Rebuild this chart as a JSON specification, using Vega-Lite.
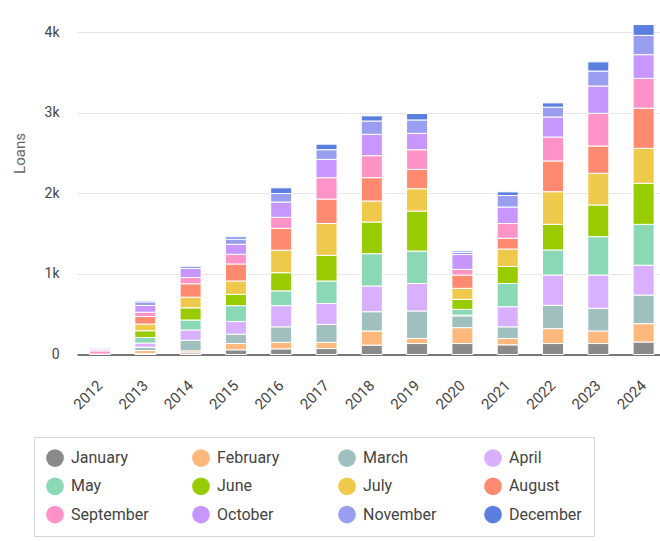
{
  "$schema": "https://vega.github.io/schema/vega-lite/v6.json",
  "autosize": {"type": "none"},
  "padding": {"left": 77, "top": 16, "right": 0, "bottom": 186.5},
  "width": 583,
  "height": 338.5,
  "background": "white",
  "config": {"font": "Roboto", "view": {"stroke": null}},
  "data": {"values": [
    {"year":"2012","month":"August","n":8,"loans":5},
    {"year":"2012","month":"September","n":9,"loans":40},
    {"year":"2012","month":"October","n":10,"loans":20},
    {"year":"2012","month":"November","n":11,"loans":15},
    {"year":"2012","month":"December","n":12,"loans":7},
    {"year":"2013","month":"January","n":1,"loans":12},
    {"year":"2013","month":"February","n":2,"loans":37},
    {"year":"2013","month":"March","n":3,"loans":42},
    {"year":"2013","month":"April","n":4,"loans":51},
    {"year":"2013","month":"May","n":5,"loans":69},
    {"year":"2013","month":"June","n":6,"loans":84},
    {"year":"2013","month":"July","n":7,"loans":83},
    {"year":"2013","month":"August","n":8,"loans":93},
    {"year":"2013","month":"September","n":9,"loans":54},
    {"year":"2013","month":"October","n":10,"loans":83},
    {"year":"2013","month":"November","n":11,"loans":45},
    {"year":"2013","month":"December","n":12,"loans":12},
    {"year":"2014","month":"January","n":1,"loans":20},
    {"year":"2014","month":"February","n":2,"loans":25},
    {"year":"2014","month":"March","n":3,"loans":132},
    {"year":"2014","month":"April","n":4,"loans":127},
    {"year":"2014","month":"May","n":5,"loans":124},
    {"year":"2014","month":"June","n":6,"loans":151},
    {"year":"2014","month":"July","n":7,"loans":132},
    {"year":"2014","month":"August","n":8,"loans":167},
    {"year":"2014","month":"September","n":9,"loans":77},
    {"year":"2014","month":"October","n":10,"loans":112},
    {"year":"2014","month":"November","n":11,"loans":30},
    {"year":"2014","month":"December","n":12,"loans":8},
    {"year":"2015","month":"January","n":1,"loans":58},
    {"year":"2015","month":"February","n":2,"loans":78},
    {"year":"2015","month":"March","n":3,"loans":116},
    {"year":"2015","month":"April","n":4,"loans":157},
    {"year":"2015","month":"May","n":5,"loans":197},
    {"year":"2015","month":"June","n":6,"loans":140},
    {"year":"2015","month":"July","n":7,"loans":166},
    {"year":"2015","month":"August","n":8,"loans":211},
    {"year":"2015","month":"September","n":9,"loans":120},
    {"year":"2015","month":"October","n":10,"loans":124},
    {"year":"2015","month":"November","n":11,"loans":64},
    {"year":"2015","month":"December","n":12,"loans":29},
    {"year":"2016","month":"January","n":1,"loans":70},
    {"year":"2016","month":"February","n":2,"loans":81},
    {"year":"2016","month":"March","n":3,"loans":192},
    {"year":"2016","month":"April","n":4,"loans":263},
    {"year":"2016","month":"May","n":5,"loans":184},
    {"year":"2016","month":"June","n":6,"loans":225},
    {"year":"2016","month":"July","n":7,"loans":279},
    {"year":"2016","month":"August","n":8,"loans":271},
    {"year":"2016","month":"September","n":9,"loans":137},
    {"year":"2016","month":"October","n":10,"loans":190},
    {"year":"2016","month":"November","n":11,"loans":106},
    {"year":"2016","month":"December","n":12,"loans":70},
    {"year":"2017","month":"January","n":1,"loans":74},
    {"year":"2017","month":"February","n":2,"loans":77},
    {"year":"2017","month":"March","n":3,"loans":223},
    {"year":"2017","month":"April","n":4,"loans":259},
    {"year":"2017","month":"May","n":5,"loans":279},
    {"year":"2017","month":"June","n":6,"loans":318},
    {"year":"2017","month":"July","n":7,"loans":395},
    {"year":"2017","month":"August","n":8,"loans":304},
    {"year":"2017","month":"September","n":9,"loans":265},
    {"year":"2017","month":"October","n":10,"loans":227},
    {"year":"2017","month":"November","n":11,"loans":120},
    {"year":"2017","month":"December","n":12,"loans":69},
    {"year":"2018","month":"January","n":1,"loans":116},
    {"year":"2018","month":"February","n":2,"loans":176},
    {"year":"2018","month":"March","n":3,"loans":239},
    {"year":"2018","month":"April","n":4,"loans":319},
    {"year":"2018","month":"May","n":5,"loans":401},
    {"year":"2018","month":"June","n":6,"loans":393},
    {"year":"2018","month":"July","n":7,"loans":260},
    {"year":"2018","month":"August","n":8,"loans":290},
    {"year":"2018","month":"September","n":9,"loans":273},
    {"year":"2018","month":"October","n":10,"loans":265},
    {"year":"2018","month":"November","n":11,"loans":165},
    {"year":"2018","month":"December","n":12,"loans":64},
    {"year":"2019","month":"January","n":1,"loans":136},
    {"year":"2019","month":"February","n":2,"loans":63},
    {"year":"2019","month":"March","n":3,"loans":341},
    {"year":"2019","month":"April","n":4,"loans":341},
    {"year":"2019","month":"May","n":5,"loans":403},
    {"year":"2019","month":"June","n":6,"loans":496},
    {"year":"2019","month":"July","n":7,"loans":277},
    {"year":"2019","month":"August","n":8,"loans":240},
    {"year":"2019","month":"September","n":9,"loans":244},
    {"year":"2019","month":"October","n":10,"loans":203},
    {"year":"2019","month":"November","n":11,"loans":166},
    {"year":"2019","month":"December","n":12,"loans":80},
    {"year":"2020","month":"January","n":1,"loans":136},
    {"year":"2020","month":"February","n":2,"loans":197},
    {"year":"2020","month":"March","n":3,"loans":147},
    {"year":"2020","month":"April","n":4,"loans":8},
    {"year":"2020","month":"May","n":5,"loans":72},
    {"year":"2020","month":"June","n":6,"loans":124},
    {"year":"2020","month":"July","n":7,"loans":137},
    {"year":"2020","month":"August","n":8,"loans":165},
    {"year":"2020","month":"September","n":9,"loans":70},
    {"year":"2020","month":"October","n":10,"loans":184},
    {"year":"2020","month":"November","n":11,"loans":29},
    {"year":"2020","month":"December","n":12,"loans":17},
    {"year":"2021","month":"January","n":1,"loans":120},
    {"year":"2021","month":"February","n":2,"loans":79},
    {"year":"2021","month":"March","n":3,"loans":144},
    {"year":"2021","month":"April","n":4,"loans":250},
    {"year":"2021","month":"May","n":5,"loans":288},
    {"year":"2021","month":"June","n":6,"loans":211},
    {"year":"2021","month":"July","n":7,"loans":217},
    {"year":"2021","month":"August","n":8,"loans":134},
    {"year":"2021","month":"September","n":9,"loans":182},
    {"year":"2021","month":"October","n":10,"loans":205},
    {"year":"2021","month":"November","n":11,"loans":143},
    {"year":"2021","month":"December","n":12,"loans":45},
    {"year":"2022","month":"January","n":1,"loans":136},
    {"year":"2022","month":"February","n":2,"loans":185},
    {"year":"2022","month":"March","n":3,"loans":289},
    {"year":"2022","month":"April","n":4,"loans":376},
    {"year":"2022","month":"May","n":5,"loans":311},
    {"year":"2022","month":"June","n":6,"loans":318},
    {"year":"2022","month":"July","n":7,"loans":405},
    {"year":"2022","month":"August","n":8,"loans":381},
    {"year":"2022","month":"September","n":9,"loans":297},
    {"year":"2022","month":"October","n":10,"loans":249},
    {"year":"2022","month":"November","n":11,"loans":122},
    {"year":"2022","month":"December","n":12,"loans":53},
    {"year":"2023","month":"January","n":1,"loans":136},
    {"year":"2023","month":"February","n":2,"loans":156},
    {"year":"2023","month":"March","n":3,"loans":281},
    {"year":"2023","month":"April","n":4,"loans":413},
    {"year":"2023","month":"May","n":5,"loans":476},
    {"year":"2023","month":"June","n":6,"loans":393},
    {"year":"2023","month":"July","n":7,"loans":393},
    {"year":"2023","month":"August","n":8,"loans":339},
    {"year":"2023","month":"September","n":9,"loans":405},
    {"year":"2023","month":"October","n":10,"loans":339},
    {"year":"2023","month":"November","n":11,"loans":186},
    {"year":"2023","month":"December","n":12,"loans":114},
    {"year":"2024","month":"January","n":1,"loans":155},
    {"year":"2024","month":"February","n":2,"loans":228},
    {"year":"2024","month":"March","n":3,"loans":355},
    {"year":"2024","month":"April","n":4,"loans":370},
    {"year":"2024","month":"May","n":5,"loans":507},
    {"year":"2024","month":"June","n":6,"loans":509},
    {"year":"2024","month":"July","n":7,"loans":434},
    {"year":"2024","month":"August","n":8,"loans":498},
    {"year":"2024","month":"September","n":9,"loans":370},
    {"year":"2024","month":"October","n":10,"loans":294},
    {"year":"2024","month":"November","n":11,"loans":240},
    {"year":"2024","month":"December","n":12,"loans":134}
  ]},
  "mark": {"type": "bar", "stroke": "white", "strokeWidth": 1},
  "encoding": {
    "x": {
      "field": "year", "type": "ordinal",
      "scale": {"paddingInner": 0.536, "paddingOuter": 0.203, "align": 0.68},
      "axis": {
        "title": null, "labelAngle": -45, "labelAlign": "right", "labelBaseline": "middle",
        "labelPadding": 28, "ticks": false, "labelFontSize": 15, "labelColor": "#444",
        "domain": true, "domainColor": "#777", "domainWidth": 2, "grid": false
      }
    },
    "y": {
      "field": "loans", "type": "quantitative", "aggregate": "sum", "stack": "zero",
      "scale": {"domain": [0, 4200], "nice": false},
      "axis": {
        "title": "Loans", "values": [0, 1000, 2000, 3000, 4000],
        "labelExpr": "datum.value == 0 ? '0' : (datum.value / 1000) + 'k'",
        "ticks": false, "domain": false, "grid": true, "gridColor": "#e6e6e6",
        "labelPadding": 18, "labelFontSize": 14, "labelColor": "#444",
        "titleFontSize": 15, "titleFontWeight": "normal", "titleColor": "#666",
        "titleX": -58, "titleY": 137, "titleAlign": "center", "titleBaseline": "middle"
      }
    },
    "color": {
      "field": "month", "type": "nominal",
      "scale": {
        "domain": ["January","February","March","April","May","June","July","August","September","October","November","December"],
        "range": ["#8a8a8a","#ffb87c","#a0c0c0","#d8b0ff","#8ad8b5","#99cc00","#efc94c","#ff8a70","#ff93c8","#c896ff","#999ef0","#5b7fe1"]
      },
      "legend": {
        "title": null, "orient": "none", "legendX": -43, "legendY": 421,
        "direction": "horizontal", "columns": 4, "gridAlign": "all", "padding": 12,
        "strokeColor": "#d6d6d6", "fillColor": "white",
        "symbolType": "circle", "symbolSize": 314, "symbolStrokeWidth": 0, "symbolOpacity": 1,
        "labelFontSize": 16, "labelColor": "#444", "labelOffset": 7,
        "rowPadding": 10.3, "columnPadding": 43
      }
    },
    "order": {"field": "n", "type": "quantitative", "sort": "ascending"}
  }
}
